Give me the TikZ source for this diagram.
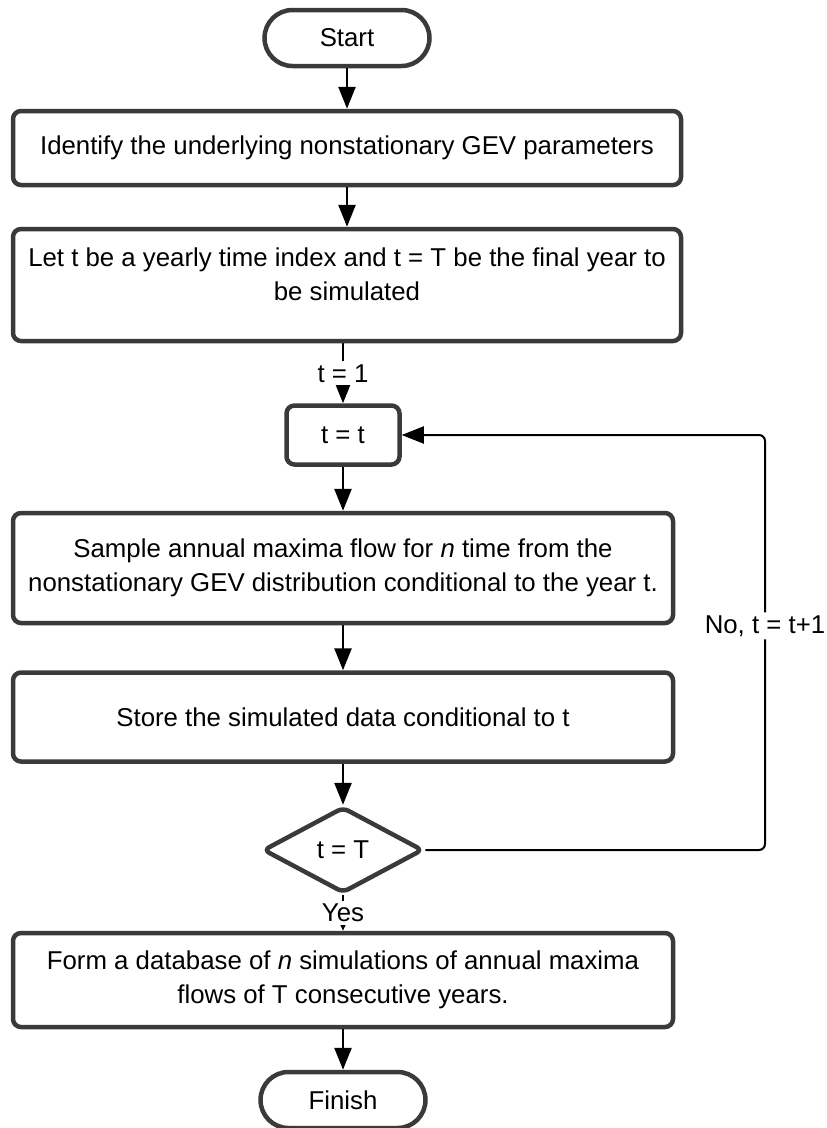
\documentclass[tikz,border=0pt]{standalone}
\usepackage{fontspec}
\setmainfont{Liberation Sans}
\usepackage{tikz}
\usetikzlibrary{shapes}
\usetikzlibrary{arrows.meta}
\definecolor{boxgray}{HTML}{3A3A3A}
\tikzset{ proc_box/.style = {rectangle, rounded corners=8pt, draw=boxgray, line width=4.5pt, align=center, inner sep=0pt} }
\tikzset{ end_box/.style = {rectangle, rounded corners=28pt, draw=boxgray, line width=4.5pt, minimum width=165pt, minimum height=56pt} }
\tikzset{ test_box/.style = {diamond, rounded corners=6pt, draw=boxgray, line width=4.5pt, minimum width=160pt, minimum height=86pt, inner sep=0pt} }
\tikzset{ flow_line/.style = {line width=2.6pt, -{Triangle[length=22pt,width=17pt]}} }
\tikzset{ flow_label/.style = {fill=white, inner sep=3pt} }

\begin{document}
\begin{tikzpicture}[x=1pt,y=-1pt,font=\fontsize{25.8}{33.5}\selectfont]
            \useasboundingbox (0,0) rectangle (827,1128);
            \node [style=end_box] (start) at (347, 38) {Start};
            \node [style=proc_box, minimum width=668pt, minimum height=74pt] (ident) at (347, 148) {Identify the underlying nonstationary GEV parameters};
            \node [style=proc_box, minimum width=668pt, minimum height=112pt] (letT) at (347, 285) {Let t be a yearly time index and t = T be the final year to\\be simulated\\[-12pt]\mbox{}};
            \node [style=proc_box, minimum width=113pt, minimum height=59pt] (tt) at (343, 435) {t = t};
            \node [style=proc_box, minimum width=660pt, minimum height=110pt] (sample) at (343, 568) {Sample annual maxima flow for \textit{n} time from the\\nonstationary GEV distribution conditional to the year t.};
            \node [style=proc_box, minimum width=660pt, minimum height=89pt] (store) at (343, 717) {Store the simulated data conditional to t};
            \node [style=test_box] (check) at (343, 850) {t = T};
            \node [style=proc_box, minimum width=660pt, minimum height=94pt] (form) at (343, 980) {Form a database of \textit{n} simulations of annual maxima\\flows of T consecutive years.};
            \node [style=end_box] (finish) at (343, 1100) {Finish};
            \coordinate (back) at (765, 850);
            % main flow
            \draw [flow_line] (start) to (ident);
            \draw [flow_line] (ident) to (letT);
            \draw [flow_line] (tt.north |- letT.south) to node[flow_label] {t = 1} (tt.north);
            \draw [flow_line] (tt) to (sample);
            \draw [flow_line] (sample) to (store);
            \draw [flow_line] (store) to (check);
            \draw [line width=2.6pt, -{Triangle[length=7pt,width=6pt]}] (check) to node[flow_label] {Yes} (form);
            \draw [flow_line] (form) to (finish);
            % loop back
            \draw [flow_line, line width=2pt, rounded corners=6pt] (check.east) -- (back) |- node[flow_label, pos=0.27] {No, t = t+1} (tt.east);
    \end{tikzpicture}
\end{document}
